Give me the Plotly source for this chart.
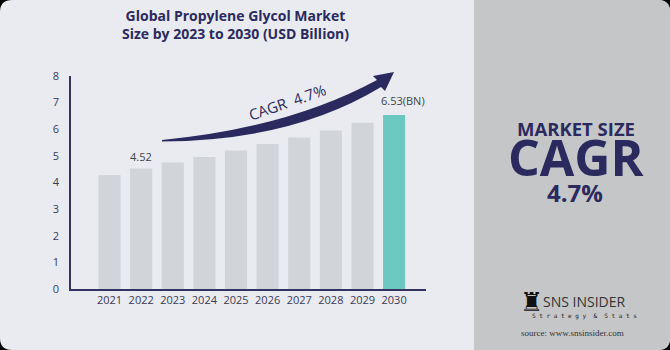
import plotly.graph_objects as go

years = [2021, 2022, 2023, 2024, 2025, 2026, 2027, 2028, 2029, 2030]
values = [4.28, 4.52, 4.74, 4.95, 5.19, 5.44, 5.68, 5.94, 6.24, 6.53]
bar_colors = ["#d1d5da"] * 9 + ["#6cc9c2"]
y_ticks = [0, 1, 2, 3, 4, 5, 6, 7, 8]

W, H = 670, 350
NAVY = "#2b2a5e"
BG = "#e9ebf0"
PANEL = "#c5c6c8"


def X(px):
    return px / W


def Y(py):
    return 1 - py / H


def pt(px, py):
    return f"{X(px):.5f},{Y(py):.5f}"


fig = go.Figure()
fig.add_trace(go.Bar(
    x=years, y=values, width=0.7,
    marker=dict(color=bar_colors, line=dict(width=0)),
    hoverinfo="skip",
))

shapes = []
r = 12
bgpath = (f"M {pt(r,0)} L {pt(W-r,0)} Q {pt(W,0)} {pt(W,r)} L {pt(W,H-r)} "
          f"Q {pt(W,H)} {pt(W-r,H)} L {pt(r,H)} Q {pt(0,H)} {pt(0,H-r)} "
          f"L {pt(0,r)} Q {pt(0,0)} {pt(r,0)} Z")
shapes.append(dict(type="path", xref="paper", yref="paper", path=bgpath,
                   fillcolor=BG, line=dict(width=0), layer="below"))
pl = 474
panel = (f"M {pt(pl,0)} L {pt(W-r,0)} Q {pt(W,0)} {pt(W,r)} L {pt(W,H-r)} "
         f"Q {pt(W,H)} {pt(W-r,H)} L {pt(pl,H)} Z")
shapes.append(dict(type="path", xref="paper", yref="paper", path=panel,
                   fillcolor=PANEL, line=dict(width=0), layer="below"))
# CAGR arrow (decorative)
arrow = (f"M {pt(162,141.5)} Q {pt(292,141)} {pt(381,87)} L {pt(385,91)} "
         f"L {pt(394,72)} L {pt(373,76)} L {pt(377,80)} "
         f"Q {pt(288,128)} {pt(162,140)} Z")
shapes.append(dict(type="path", xref="paper", yref="paper", path=arrow,
                   fillcolor=NAVY, line=dict(width=0), layer="above"))


def a(text, px, py, size, family="Open Sans", color=NAVY, **kw):
    return dict(text=text, x=X(px), y=Y(py), xref="paper", yref="paper",
                showarrow=False, xanchor="center", yanchor="middle",
                font=dict(family=family, size=size, color=color), **kw)


ann = []
ann.append(a("<b>Global Propylene Glycol Market<br>Size by 2023 to 2030 (USD Billion)</b>",
             236, 24.5, 14, align="center"))
ann.append(dict(text="4.52", x=years[1], y=values[1], xref="x", yref="y",
                showarrow=False, yshift=12, font=dict(family="Open Sans", size=11, color="#444444")))
ann.append(dict(text="6.53(BN)", x=years[9], y=values[9], xref="x", yref="y",
                showarrow=False, yshift=14, xshift=9, font=dict(family="Open Sans", size=11, color="#444444")))
ann.append(a("CAGR  4.7%", 287, 102, 15, textangle=-19))
ann.append(a("<b>MARKET SIZE</b>", 576, 128, 18.5, height=20))
ann.append(a("<b>CAGR</b>", 576, 157, 50, height=40))
ann.append(a("<b>4.7%</b>", 575, 192, 24, height=24))
ann.append(a("♜", 531, 302, 26, family="DejaVu Sans", color="#111111"))
ann.append(a("SNS INSIDER", 584, 301, 14, color="#333333"))
ann.append(a("S t r a t e g y  &  S t a t s", 584, 316, 6, family="DejaVu Sans Mono", color="#222222"))
ann.append(a("source: www.snsinsider.com", 572, 333, 9, family="Liberation Serif", color="#333333"))

fig.update_layout(
    width=W, height=H,
    margin=dict(l=0, r=0, t=0, b=0),
    paper_bgcolor="#000000",
    plot_bgcolor="rgba(0,0,0,0)",
    showlegend=False,
    shapes=shapes,
    annotations=ann,
    xaxis=dict(domain=[X(71), X(425.7)], range=[2019.78, 2031.0], automargin=False,
               tickvals=years, ticktext=[str(y) for y in years],
               showline=True, linecolor="#34335f", linewidth=1.5,
               showgrid=False, zeroline=False, ticks="",
               tickfont=dict(family="Open Sans", size=11, color="#3a3a55"), fixedrange=True),
    yaxis=dict(domain=[Y(289), Y(75.7)], range=[0, 8], tickvals=y_ticks, automargin=False,
               showline=True, linecolor="#34335f", linewidth=1.5,
               showgrid=False, zeroline=False, ticks="", ticklabelstandoff=8,
               tickfont=dict(family="Open Sans", size=11, color="#3a3a55"), fixedrange=True),
)

fig.write_html("out.html")
